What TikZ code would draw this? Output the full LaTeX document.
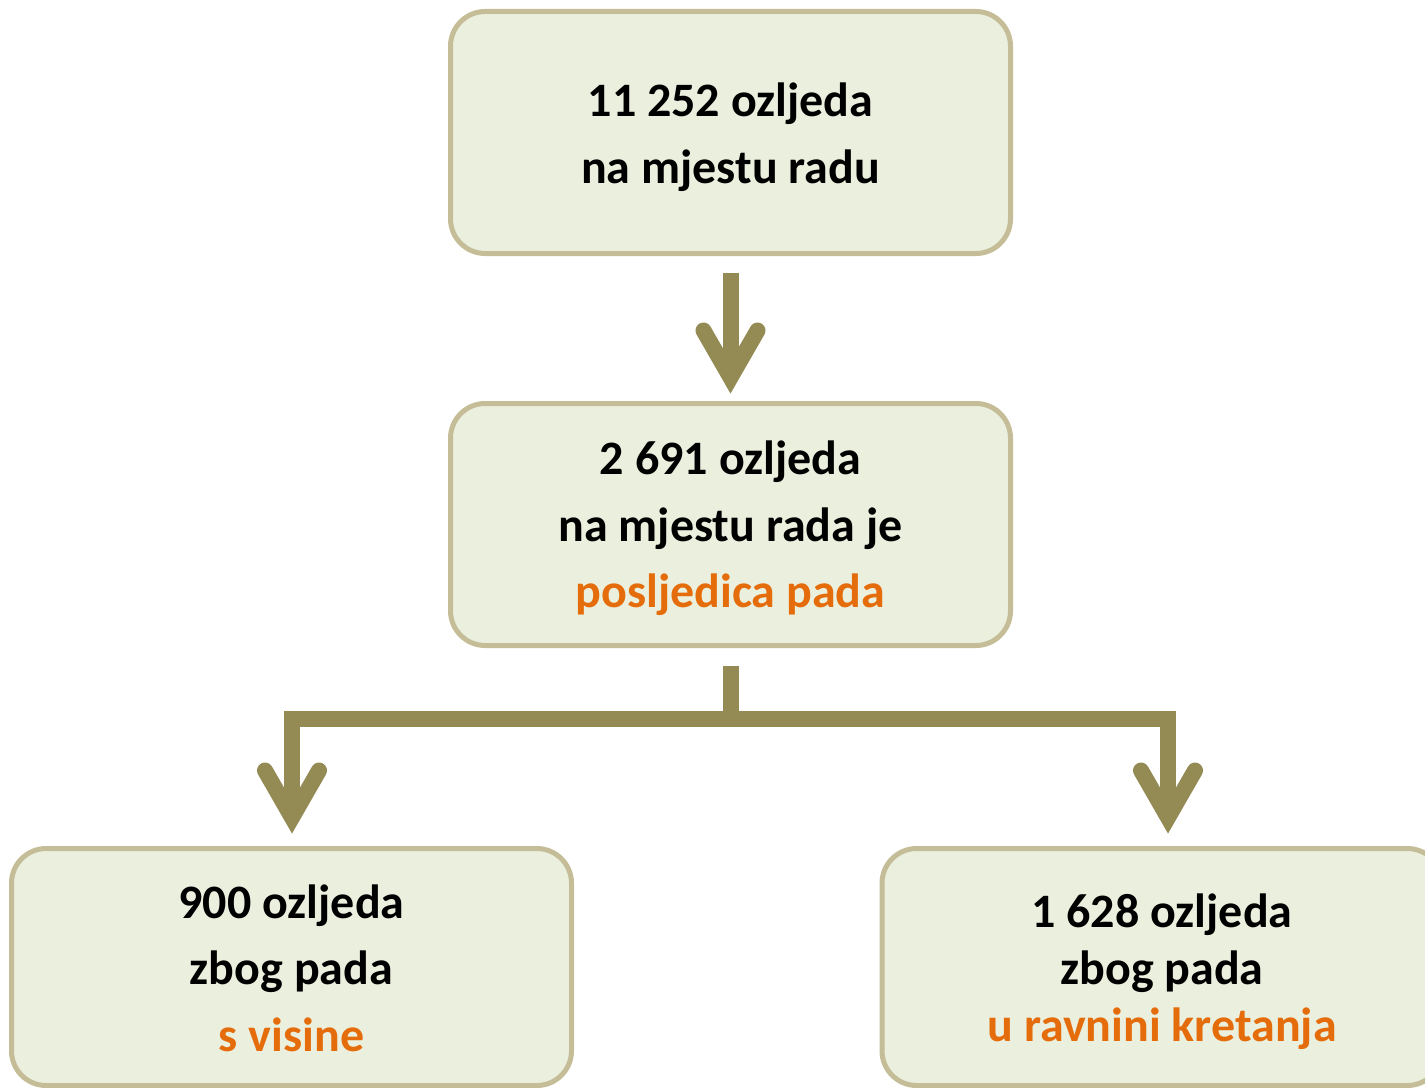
\documentclass[tikz,border=0pt]{standalone}
\usepackage{fontspec}
\setmainfont{Carlito}
\usetikzlibrary{calc}
\definecolor{boxfill}{HTML}{EBF0DE}
\definecolor{boxline}{HTML}{C4BD97}
\definecolor{arrowc}{HTML}{948A54}
\definecolor{orng}{HTML}{E46C0A}
\tikzset{
  box/.style={draw=boxline, fill=boxfill, line width=3.75pt, rounded corners=26pt,
    minimum width=420pt, minimum height=181.5pt, inner sep=0pt},
  lowbox/.style={box, minimum height=177.75pt},
  txt/.style={align=center, inner sep=0pt, font=\fontsize{36}{50}\selectfont\bfseries},
  conn/.style={draw=arrowc, line width=12pt, line cap=butt, line join=miter},
  chev/.style={draw=arrowc, line width=12pt, line cap=round, line join=miter},
  pics/chevron/.style={code={\draw[chev] (-27,-47) -- (0,0) -- (27,-47);}}
}
\begin{document}
\begin{tikzpicture}[x=0.75pt,y=-0.75pt]
\useasboundingbox (0,0) rectangle (1425,1088);
\clip (0,0) rectangle (1425,1088);
\node[box] (top) at (730.5,132.5) {};
\node[box] (mid) at (730.5,524.5) {};
\node[lowbox] (bl) at (291.5,967) {};
\node[lowbox] (br) at (1162,967) {};
\node[txt] (topt) at ($(top.center)+(0,5)$) {11 252 ozljeda\\na mjestu radu};
\node[txt] (midt) at ($(mid.center)+(0,4)$) {2 691 ozljeda\\na mjestu rada je\\\textcolor{orng}{posljedica pada}};
\node[txt] (blt) at ($(bl.center)+(0,1)$) {900 ozljeda\\zbog pada\\\textcolor{orng}{s visine}};
\node[txt, font=\fontsize{36}{42.75}\selectfont\bfseries] (brt) at ($(br.center)+(0,5)$)
  {1 628 ozljeda\\zbog pada\\\textcolor{orng}{u ravnini kretanja}};
% top arrow
\coordinate (a0) at ($(top.south)+(0,16.5)$);
\coordinate (a1) at ($(mid.north)+(0,-23.5)$);
\draw[conn] (a0) -- (a1);
\pic at (a1) {chevron};
% branch
\coordinate (s0) at ($(mid.south)+(0,17.5)$);
\coordinate (j) at ($(mid.south)+(0,70.5)$);
\coordinate (vL) at ($(bl.north)+(0.5,-28.5)$);
\coordinate (vR) at ($(br.north)+(6,-28.5)$);
\draw[conn] (s0) -- (j);
\draw[conn] (vL) -- (vL |- j) -- (vR |- j) -- (vR);
\pic at (vL) {chevron};
\pic at (vR) {chevron};
\end{tikzpicture}
\end{document}
